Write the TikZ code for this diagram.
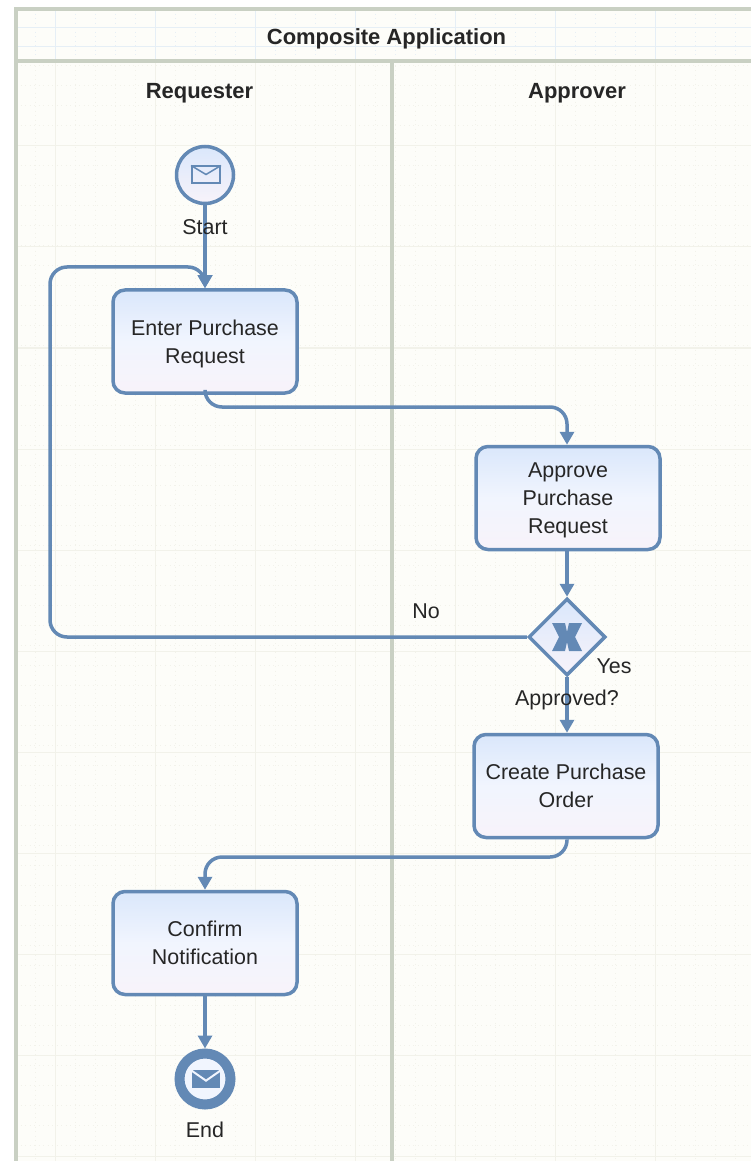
\documentclass[tikz,border=0pt]{standalone}
\usepackage{fontspec}
\setmainfont{Liberation Sans}
\usetikzlibrary{arrows.meta,positioning,shapes.geometric,calc}
\definecolor{flowblue}{HTML}{6389B5}
\definecolor{laneline}{HTML}{C9D0C3}
\definecolor{paper}{HTML}{FDFDF9}
\definecolor{boxtop}{HTML}{DAE7FB}
\definecolor{boxmid}{HTML}{F1F5FE}
\definecolor{boxlow}{HTML}{F8F3FA}
\definecolor{headgrid}{HTML}{E6EFF6}
\definecolor{lanegrid}{HTML}{F2F2EA}
\tikzset{
    lbl/.style={font=\fontsize{12.2}{15.9}\selectfont, text=black!85, inner sep=0pt},
    boldlbl/.style={font=\fontsize{12.5}{15.9}\selectfont\bfseries, text=black!85, inner sep=0pt},
    taskbox/.style={rectangle, rounded corners=0.24cm, draw=flowblue, line width=0.07cm, top color=boxtop, bottom color=boxlow, middle color=boxmid, minimum width=3.68cm, minimum height=2.06cm, align=center, font=\fontsize{12.2}{15.9}\selectfont, text=black!85, inner sep=0pt, text depth=0pt},
    eventstart/.style={circle, draw=flowblue, line width=0.07cm, top color=boxtop, bottom color=boxlow, minimum size=1.14cm, inner sep=0pt},
    eventend/.style={circle, draw=flowblue, line width=0.2cm, fill=boxmid, minimum size=1.02cm, inner sep=0pt},
    gateway/.style={diamond, draw=flowblue, line width=0.07cm, top color=boxtop, bottom color=boxlow, minimum size=1.54cm, inner sep=0pt},
    mailbox/.style={rectangle, minimum width=0.56cm, minimum height=0.34cm, inner sep=0pt},
    flow/.style={draw=flowblue, line width=0.07cm, rounded corners=0.34cm, -{Triangle[length=0.26cm,width=0.28cm]}},
    lanerule/.style={draw=laneline, line width=0.08cm}
}
\begin{document}
\begin{tikzpicture}[node distance=1.2cm]
    \useasboundingbox (0,0) rectangle (15.02,-23.22);
    % paper and grid
    \fill[white] (0,0) rectangle (15.02,-23.22);
    \fill[paper] (0.32,-0.18) rectangle (15.02,-23.22);
    \foreach \x in {0.7,1.1,...,15.02} {
        \draw[lanegrid, line width=0.02cm, dotted] (\x,-1.22) -- (\x,-23.22);
        \draw[headgrid, line width=0.02cm, dotted] (\x,-0.18) -- (\x,-1.22);
    }
    \foreach \x in {1.1,3.1,...,15.02} {
        \draw[lanegrid, line width=0.02cm] (\x,-1.22) -- (\x,-23.22);
        \draw[headgrid, line width=0.02cm] (\x,-0.18) -- (\x,-1.22);
    }
    \foreach \y in {-1.32,-1.72,...,-23.22} {
        \draw[lanegrid, line width=0.02cm, dotted] (0.32,\y) -- (15.02,\y);
    }
    \foreach \y in {-2.92,-4.94,...,-23.22} {
        \draw[lanegrid, line width=0.02cm] (0.32,\y) -- (15.02,\y);
    }
    \draw[headgrid, line width=0.02cm] (0.32,-0.56) -- (15.02,-0.56);
    \draw[headgrid, line width=0.02cm] (0.32,-0.94) -- (15.02,-0.94);

    % pool and lanes
    \draw[lanerule] (15.1,-0.18) -- (0.32,-0.18) -- (0.32,-23.3);
    \draw[lanerule] (0.32,-1.22) -- (15.1,-1.22);
    \draw[lanerule] (7.84,-1.22) -- (7.84,-23.3);

    \node[boldlbl] (pool) at (7.73,-0.77) {Composite Application};
    \node[boldlbl] (requester) at (3.99,-1.86) {Requester};
    \node[boldlbl] (approver) at (11.54,-1.86) {Approver};

    % nodes
    \node[eventstart] (start) at (4.1,-3.5) {};
    \node[taskbox, below of=start, node distance=3.33cm] (enter) {Enter Purchase\\Request};
    \node[taskbox] (approve) at (11.36,-9.96) {Approve\\Purchase\\Request};
    \node[gateway, below of=approve, node distance=2.78cm, xshift=-0.02cm] (check) {};
    \node[taskbox, below of=check, node distance=2.98cm, xshift=-0.02cm] (create) {Create Purchase\\Order};
    \node[taskbox] (confirm) at (4.1,-18.86) {Confirm\\Notification};
    \node[eventend, below of=confirm, node distance=2.72cm] (end) {};

    % icons
    \node[mailbox, draw=flowblue, line width=0.04cm, xshift=0.02cm] (startmail) at (start) {};
    \draw[flowblue, line width=0.03cm] (startmail.north west) -- ([yshift=-0.18cm]startmail.north) -- (startmail.north east);
    \node[mailbox, fill=flowblue, minimum height=0.36cm, xshift=0.02cm] (endmail) at (end) {};
    \draw[boxmid, line width=0.04cm] ([yshift=-0.02cm]endmail.north west) -- ([yshift=-0.22cm]endmail.north) -- ([yshift=-0.02cm]endmail.north east);
    \begin{scope}[shift={(check)}, x=0.02cm, y=0.02cm]
        \fill[flowblue] (-15,14) -- (-2,14) -- (0,5) -- (2,14) -- (15,14) -- (8,0) -- (15,-14) -- (2,-14) -- (0,-5) -- (-2,-14) -- (-15,-14) -- (-8,0) -- cycle;
    \end{scope}

    % connectors
    \coordinate (loop) at (1,-5.34);
    \coordinate (across) at (7.84,-8.14);
    \coordinate (back) at (7.84,-17.14);
    \draw[flow] (start) -- (enter);
    \draw[flow] (enter.south) |- (across) -| (check |- approve.north);
    \draw[flow] (check |- approve.south) -- (check.north);
    \draw[flow] (check.west) -| (loop) -| (enter.north);
    \draw[flow] (check.south) -- (check |- create.north);
    \draw[flow] (check |- create.south) |- (back) -| (confirm.north);
    \draw[flow] (confirm) -- (end);

    % labels
    \node[lbl, below of=start, node distance=1.04cm] (startlbl) {Start};
    \node[lbl, below of=end, node distance=1.02cm] (endlbl) {End};
    \node[lbl, above left=0.52cm and 2.82cm of check.center, anchor=center] (nolbl) {No};
    \node[lbl, below right=0.58cm and 0.94cm of check.center, anchor=center] (yeslbl) {Yes};
    \node[lbl, below=1.26cm of check.center, anchor=center] (approvedlbl) {Approved?};
\end{tikzpicture}
\end{document}
